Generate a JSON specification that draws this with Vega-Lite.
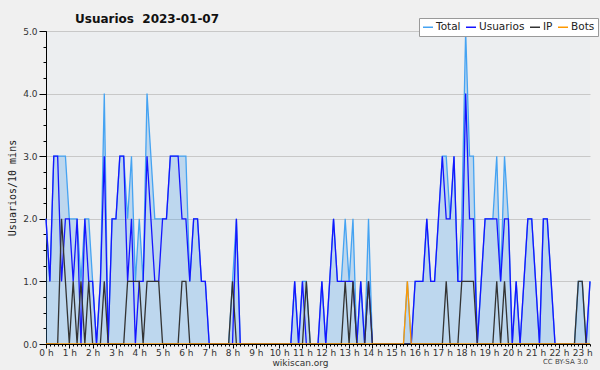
{
  "$schema": "https://vega.github.io/schema/vega-lite/v6.json",
  "width": 544,
  "height": 313,
  "autosize": {"type": "none"},
  "padding": {"left": 46, "top": 31, "right": 10, "bottom": 26},
  "background": "#f0f0f0",
  "config": {"view": {"fill": "#eceef0", "stroke": null}, "font": "DejaVu Sans"},
  "title": {"text": "Usuarios\u00a0 2023-01-07", "anchor": "start", "frame": "group", "dx": 29, "dy": 26, "offset": 9, "baseline": "alphabetic", "fontSize": 12, "font": "DejaVu Sans", "fontWeight": "bold", "color": "#111111"},
  "data": {"values": [
    {"m":0,"Total":2,"Usuarios":2,"IP":0,"Bots":0},
    {"m":10,"Total":1,"Usuarios":1,"IP":0,"Bots":0},
    {"m":20,"Total":3,"Usuarios":3,"IP":0,"Bots":0},
    {"m":30,"Total":3,"Usuarios":3,"IP":0,"Bots":0},
    {"m":40,"Total":3,"Usuarios":1,"IP":2,"Bots":0},
    {"m":50,"Total":3,"Usuarios":2,"IP":1,"Bots":0},
    {"m":60,"Total":2,"Usuarios":2,"IP":0,"Bots":0},
    {"m":70,"Total":2,"Usuarios":1,"IP":1,"Bots":0},
    {"m":80,"Total":2,"Usuarios":2,"IP":0,"Bots":0},
    {"m":90,"Total":1,"Usuarios":0,"IP":1,"Bots":0},
    {"m":100,"Total":2,"Usuarios":2,"IP":0,"Bots":0},
    {"m":110,"Total":2,"Usuarios":1,"IP":1,"Bots":0},
    {"m":120,"Total":1,"Usuarios":1,"IP":0,"Bots":0},
    {"m":130,"Total":0,"Usuarios":0,"IP":0,"Bots":0},
    {"m":140,"Total":1,"Usuarios":1,"IP":0,"Bots":0},
    {"m":150,"Total":4,"Usuarios":3,"IP":1,"Bots":0},
    {"m":160,"Total":0,"Usuarios":0,"IP":0,"Bots":0},
    {"m":170,"Total":2,"Usuarios":2,"IP":0,"Bots":0},
    {"m":180,"Total":2,"Usuarios":2,"IP":0,"Bots":0},
    {"m":190,"Total":3,"Usuarios":3,"IP":0,"Bots":0},
    {"m":200,"Total":3,"Usuarios":3,"IP":0,"Bots":0},
    {"m":210,"Total":2,"Usuarios":1,"IP":1,"Bots":0},
    {"m":220,"Total":3,"Usuarios":2,"IP":1,"Bots":0},
    {"m":230,"Total":1,"Usuarios":0,"IP":1,"Bots":0},
    {"m":240,"Total":2,"Usuarios":1,"IP":1,"Bots":0},
    {"m":250,"Total":1,"Usuarios":1,"IP":0,"Bots":0},
    {"m":260,"Total":4,"Usuarios":3,"IP":1,"Bots":0},
    {"m":270,"Total":3,"Usuarios":2,"IP":1,"Bots":0},
    {"m":280,"Total":2,"Usuarios":1,"IP":1,"Bots":0},
    {"m":290,"Total":2,"Usuarios":1,"IP":1,"Bots":0},
    {"m":300,"Total":2,"Usuarios":2,"IP":0,"Bots":0},
    {"m":310,"Total":2,"Usuarios":2,"IP":0,"Bots":0},
    {"m":320,"Total":3,"Usuarios":3,"IP":0,"Bots":0},
    {"m":330,"Total":3,"Usuarios":3,"IP":0,"Bots":0},
    {"m":340,"Total":3,"Usuarios":3,"IP":0,"Bots":0},
    {"m":350,"Total":3,"Usuarios":2,"IP":1,"Bots":0},
    {"m":360,"Total":3,"Usuarios":2,"IP":1,"Bots":0},
    {"m":370,"Total":1,"Usuarios":1,"IP":0,"Bots":0},
    {"m":380,"Total":2,"Usuarios":2,"IP":0,"Bots":0},
    {"m":390,"Total":2,"Usuarios":2,"IP":0,"Bots":0},
    {"m":400,"Total":1,"Usuarios":1,"IP":0,"Bots":0},
    {"m":410,"Total":1,"Usuarios":1,"IP":0,"Bots":0},
    {"m":420,"Total":0,"Usuarios":0,"IP":0,"Bots":0},
    {"m":430,"Total":0,"Usuarios":0,"IP":0,"Bots":0},
    {"m":440,"Total":0,"Usuarios":0,"IP":0,"Bots":0},
    {"m":450,"Total":0,"Usuarios":0,"IP":0,"Bots":0},
    {"m":460,"Total":0,"Usuarios":0,"IP":0,"Bots":0},
    {"m":470,"Total":0,"Usuarios":0,"IP":0,"Bots":0},
    {"m":480,"Total":1,"Usuarios":0,"IP":1,"Bots":0},
    {"m":490,"Total":2,"Usuarios":2,"IP":0,"Bots":0},
    {"m":500,"Total":0,"Usuarios":0,"IP":0,"Bots":0},
    {"m":510,"Total":0,"Usuarios":0,"IP":0,"Bots":0},
    {"m":520,"Total":0,"Usuarios":0,"IP":0,"Bots":0},
    {"m":530,"Total":0,"Usuarios":0,"IP":0,"Bots":0},
    {"m":540,"Total":0,"Usuarios":0,"IP":0,"Bots":0},
    {"m":550,"Total":0,"Usuarios":0,"IP":0,"Bots":0},
    {"m":560,"Total":0,"Usuarios":0,"IP":0,"Bots":0},
    {"m":570,"Total":0,"Usuarios":0,"IP":0,"Bots":0},
    {"m":580,"Total":0,"Usuarios":0,"IP":0,"Bots":0},
    {"m":590,"Total":0,"Usuarios":0,"IP":0,"Bots":0},
    {"m":600,"Total":0,"Usuarios":0,"IP":0,"Bots":0},
    {"m":610,"Total":0,"Usuarios":0,"IP":0,"Bots":0},
    {"m":620,"Total":0,"Usuarios":0,"IP":0,"Bots":0},
    {"m":630,"Total":0,"Usuarios":0,"IP":0,"Bots":0},
    {"m":640,"Total":1,"Usuarios":1,"IP":0,"Bots":0},
    {"m":650,"Total":0,"Usuarios":0,"IP":0,"Bots":0},
    {"m":660,"Total":1,"Usuarios":1,"IP":0,"Bots":0},
    {"m":670,"Total":1,"Usuarios":0,"IP":1,"Bots":0},
    {"m":680,"Total":0,"Usuarios":0,"IP":0,"Bots":0},
    {"m":690,"Total":0,"Usuarios":0,"IP":0,"Bots":0},
    {"m":700,"Total":0,"Usuarios":0,"IP":0,"Bots":0},
    {"m":710,"Total":1,"Usuarios":1,"IP":0,"Bots":0},
    {"m":720,"Total":0,"Usuarios":0,"IP":0,"Bots":0},
    {"m":730,"Total":1,"Usuarios":1,"IP":0,"Bots":0},
    {"m":740,"Total":2,"Usuarios":2,"IP":0,"Bots":0},
    {"m":750,"Total":1,"Usuarios":1,"IP":0,"Bots":0},
    {"m":760,"Total":1,"Usuarios":1,"IP":0,"Bots":0},
    {"m":770,"Total":2,"Usuarios":1,"IP":1,"Bots":0},
    {"m":780,"Total":1,"Usuarios":1,"IP":0,"Bots":0},
    {"m":790,"Total":2,"Usuarios":1,"IP":1,"Bots":0},
    {"m":800,"Total":0,"Usuarios":0,"IP":0,"Bots":0},
    {"m":810,"Total":1,"Usuarios":1,"IP":0,"Bots":0},
    {"m":820,"Total":0,"Usuarios":0,"IP":0,"Bots":0},
    {"m":830,"Total":2,"Usuarios":1,"IP":1,"Bots":0},
    {"m":840,"Total":0,"Usuarios":0,"IP":0,"Bots":0},
    {"m":850,"Total":0,"Usuarios":0,"IP":0,"Bots":0},
    {"m":860,"Total":0,"Usuarios":0,"IP":0,"Bots":0},
    {"m":870,"Total":0,"Usuarios":0,"IP":0,"Bots":0},
    {"m":880,"Total":0,"Usuarios":0,"IP":0,"Bots":0},
    {"m":890,"Total":0,"Usuarios":0,"IP":0,"Bots":0},
    {"m":900,"Total":0,"Usuarios":0,"IP":0,"Bots":0},
    {"m":910,"Total":0,"Usuarios":0,"IP":0,"Bots":0},
    {"m":920,"Total":0,"Usuarios":0,"IP":0,"Bots":0},
    {"m":930,"Total":1,"Usuarios":0,"IP":0,"Bots":1},
    {"m":940,"Total":0,"Usuarios":0,"IP":0,"Bots":0},
    {"m":950,"Total":1,"Usuarios":1,"IP":0,"Bots":0},
    {"m":960,"Total":1,"Usuarios":1,"IP":0,"Bots":0},
    {"m":970,"Total":1,"Usuarios":1,"IP":0,"Bots":0},
    {"m":980,"Total":2,"Usuarios":2,"IP":0,"Bots":0},
    {"m":990,"Total":1,"Usuarios":1,"IP":0,"Bots":0},
    {"m":1000,"Total":1,"Usuarios":1,"IP":0,"Bots":0},
    {"m":1010,"Total":2,"Usuarios":2,"IP":0,"Bots":0},
    {"m":1020,"Total":3,"Usuarios":3,"IP":0,"Bots":0},
    {"m":1030,"Total":3,"Usuarios":2,"IP":1,"Bots":0},
    {"m":1040,"Total":2,"Usuarios":2,"IP":0,"Bots":0},
    {"m":1050,"Total":3,"Usuarios":3,"IP":0,"Bots":0},
    {"m":1060,"Total":1,"Usuarios":1,"IP":0,"Bots":0},
    {"m":1070,"Total":2,"Usuarios":1,"IP":1,"Bots":0},
    {"m":1080,"Total":5,"Usuarios":4,"IP":1,"Bots":0},
    {"m":1090,"Total":3,"Usuarios":2,"IP":1,"Bots":0},
    {"m":1100,"Total":3,"Usuarios":2,"IP":1,"Bots":0},
    {"m":1110,"Total":0,"Usuarios":0,"IP":0,"Bots":0},
    {"m":1120,"Total":1,"Usuarios":1,"IP":0,"Bots":0},
    {"m":1130,"Total":2,"Usuarios":2,"IP":0,"Bots":0},
    {"m":1140,"Total":2,"Usuarios":2,"IP":0,"Bots":0},
    {"m":1150,"Total":2,"Usuarios":2,"IP":0,"Bots":0},
    {"m":1160,"Total":3,"Usuarios":2,"IP":1,"Bots":0},
    {"m":1170,"Total":1,"Usuarios":1,"IP":0,"Bots":0},
    {"m":1180,"Total":3,"Usuarios":2,"IP":1,"Bots":0},
    {"m":1190,"Total":2,"Usuarios":2,"IP":0,"Bots":0},
    {"m":1200,"Total":0,"Usuarios":0,"IP":0,"Bots":0},
    {"m":1210,"Total":1,"Usuarios":1,"IP":0,"Bots":0},
    {"m":1220,"Total":0,"Usuarios":0,"IP":0,"Bots":0},
    {"m":1230,"Total":1,"Usuarios":1,"IP":0,"Bots":0},
    {"m":1240,"Total":2,"Usuarios":2,"IP":0,"Bots":0},
    {"m":1250,"Total":2,"Usuarios":2,"IP":0,"Bots":0},
    {"m":1260,"Total":1,"Usuarios":1,"IP":0,"Bots":0},
    {"m":1270,"Total":0,"Usuarios":0,"IP":0,"Bots":0},
    {"m":1280,"Total":2,"Usuarios":2,"IP":0,"Bots":0},
    {"m":1290,"Total":2,"Usuarios":2,"IP":0,"Bots":0},
    {"m":1300,"Total":1,"Usuarios":1,"IP":0,"Bots":0},
    {"m":1310,"Total":0,"Usuarios":0,"IP":0,"Bots":0},
    {"m":1320,"Total":0,"Usuarios":0,"IP":0,"Bots":0},
    {"m":1330,"Total":0,"Usuarios":0,"IP":0,"Bots":0},
    {"m":1340,"Total":0,"Usuarios":0,"IP":0,"Bots":0},
    {"m":1350,"Total":0,"Usuarios":0,"IP":0,"Bots":0},
    {"m":1360,"Total":0,"Usuarios":0,"IP":0,"Bots":0},
    {"m":1370,"Total":1,"Usuarios":0,"IP":1,"Bots":0},
    {"m":1380,"Total":1,"Usuarios":0,"IP":1,"Bots":0},
    {"m":1390,"Total":0,"Usuarios":0,"IP":0,"Bots":0},
    {"m":1400,"Total":1,"Usuarios":1,"IP":0,"Bots":0}
  ]},
  "transform": [{"fold": ["Total", "Usuarios", "IP", "Bots"], "as": ["serie", "valor"]}],
  "layer": [
    {
      "transform": [{"filter": "datum.serie === 'Total'"}],
      "mark": {"type": "area", "color": "#3d9bea", "opacity": 0.27},
      "encoding": {
        "x": {"field": "m", "type": "quantitative", "scale": {"domain": [0, 1400], "nice": false, "zero": false},
          "axis": {"orient": "bottom", "values": [0,60,120,180,240,300,360,420,480,540,600,660,720,780,840,900,960,1020,1080,1140,1200,1260,1320,1380],
            "labelExpr": "(datum.value / 60) + ' h'", "tickSize": 4, "tickColor": "#000000", "domainColor": "#000000", "labelFont": "DejaVu Sans", "labelFontSize": 9, "labelColor": "#333333", "labelPadding": 0, "labelFlush": false, "labelOverlap": false, "grid": false, "zindex": 1,
            "title": "wikiscan.org", "titleFont": "DejaVu Sans", "titleFontSize": 9, "titleFontWeight": "normal", "titleColor": "#333333", "titleX": 254, "titlePadding": 1}},
        "y": {"field": "valor", "type": "quantitative", "scale": {"domain": [0, 5], "nice": false},
          "axis": {"orient": "left", "values": [0,1,2,3,4,5], "format": ".1f", "tickSize": 7, "tickColor": "#000000", "domainColor": "#000000", "labelFont": "DejaVu Sans", "labelFontSize": 9, "labelColor": "#333333", "labelPadding": 2, "grid": true, "gridColor": "#c8c8c8", "gridWidth": 1,
            "title": "Usuarios/10 mins", "titleFont": "DejaVu Sans Mono", "titleFontSize": 10, "titleFontWeight": "normal", "titleColor": "#222222", "titlePadding": 5}}
      }
    },
    {
      "mark": {"type": "line", "strokeWidth": 1.3},
      "encoding": {
        "x": {"field": "m", "type": "quantitative",
          "axis": {"orient": "bottom", "offset": 0, "values": [0,10,20,30,40,50,60,70,80,90,100,110,120,130,140,150,160,170,180,190,200,210,220,230,240,250,260,270,280,290,300,310,320,330,340,350,360,370,380,390,400,410,420,430,440,450,460,470,480,490,500,510,520,530,540,550,560,570,580,590,600,610,620,630,640,650,660,670,680,690,700,710,720,730,740,750,760,770,780,790,800,810,820,830,840,850,860,870,880,890,900,910,920,930,940,950,960,970,980,990,1000,1010,1020,1030,1040,1050,1060,1070,1080,1090,1100,1110,1120,1130,1140,1150,1160,1170,1180,1190,1200,1210,1220,1230,1240,1250,1260,1270,1280,1290,1300,1310,1320,1330,1340,1350,1360,1370,1380,1390,1400],
            "labels": false, "domain": false, "grid": false, "tickSize": 2, "tickColor": "#000000",
            "title": "CC BY-SA 3.0", "titleFont": "DejaVu Sans", "titleFontSize": 7, "titleFontWeight": "normal", "titleColor": "#444444", "titleX": 519, "titlePadding": 11}},
        "y": {"field": "valor", "type": "quantitative",
          "axis": {"orient": "left", "offset": 0, "values": [0,0.25,0.5,0.75,1,1.25,1.5,1.75,2,2.25,2.5,2.75,3,3.25,3.5,3.75,4,4.25,4.5,4.75,5],
            "labels": false, "domain": false, "grid": false, "tickSize": 3, "tickColor": "#000000", "title": null}},
        "color": {"field": "serie", "type": "nominal",
          "scale": {"domain": ["Total", "Usuarios", "IP", "Bots"], "range": ["#45a3f2", "#1515ff", "#333333", "#ff9900"]},
          "legend": {"orient": "none", "legendX": 373, "legendY": -13, "direction": "horizontal", "title": null,
            "symbolType": "stroke", "symbolSize": 100, "symbolStrokeWidth": 1.5, "labelFont": "DejaVu Sans", "labelFontSize": 10.5, "labelColor": "#222222",
            "fillColor": "#ffffff", "strokeColor": "#999999", "padding": 3, "columnPadding": 2, "labelOffset": 2}}
      }
    }
  ],
  "resolve": {"axis": {"x": "independent", "y": "independent"}}
}
